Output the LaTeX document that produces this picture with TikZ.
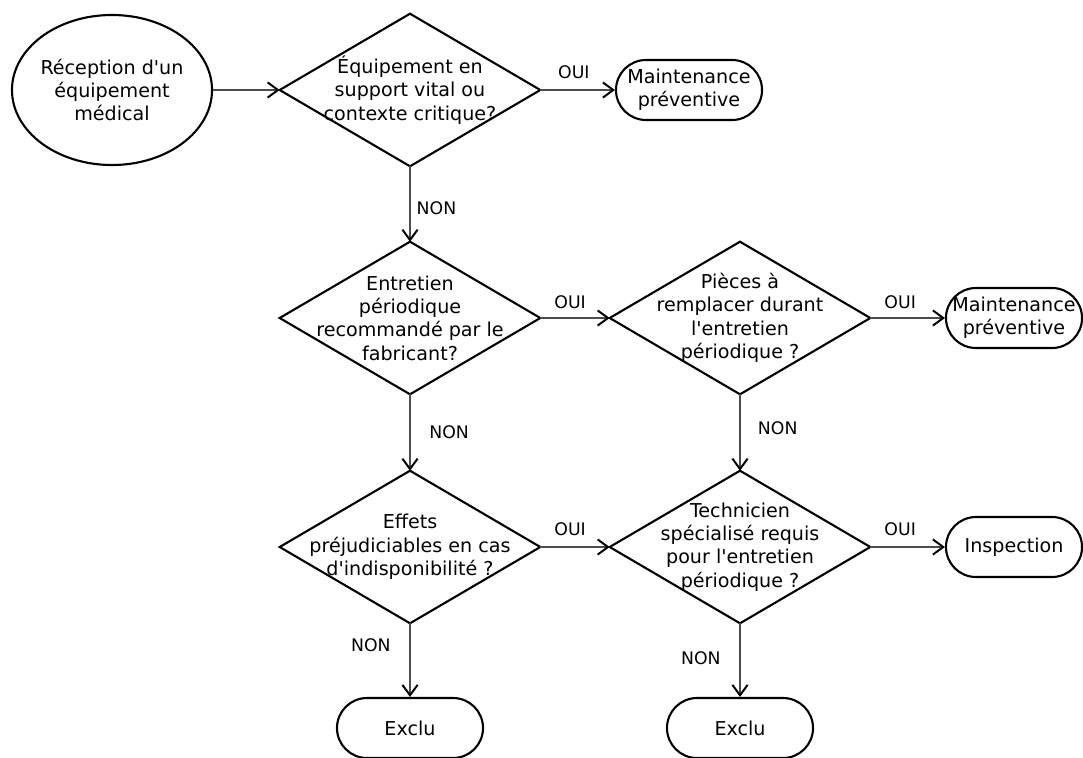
\documentclass[tikz,border=0pt]{standalone}
\usepackage{fontspec}
\setmainfont{DejaVu Sans}
\usetikzlibrary{arrows.meta,shapes.geometric}
\newcommand{\ap}{\textquotesingle}

\begin{document}
\begin{tikzpicture}[x=0.025cm,y=-0.025cm,
  >={Straight Barb[length=2.6mm,width=3.8mm,line width=1.4pt,color=black]},
  txt/.style={align=center,font=\fontsize{13.6}{16.6}\selectfont},
  start/.style={txt,ellipse,draw,line width=1.5pt,minimum width=5cm,minimum height=3.75cm,inner sep=-5pt},
  decision/.style={txt,inner sep=0pt,minimum width=6.5cm,minimum height=3.8cm},
  stopbox/.style={txt,draw,line width=1.5pt,rounded corners=0.75cm,minimum width=3.65cm,minimum height=1.5cm,inner sep=1pt},
  flow/.style={->,gray!60!black,line width=0.9pt},
  lab/.style={font=\fontsize{12.3}{14}\selectfont,black}]
  \useasboundingbox (0,0) rectangle (1083,757);

  % nodes
  \node[start] (recv) at (112,90) {R\'eception d\ap un\\\'equipement\\m\'edical};
  \node[decision] (q1) at (410,90) {\'Equipement en\\support vital ou\\contexte critique?};
  \node[stopbox] (m1) at (689,90) {Maintenance\\pr\'eventive};
  \node[decision] (q2) at (410,318) {Entretien\\p\'eriodique\\recommand\'e par le\\fabricant?};
  \node[decision] (q3) at (740,318) {Pi\`eces \`a\\remplacer durant\\l\ap entretien\\p\'eriodique ?};
  \node[stopbox,minimum width=3.4cm] (m2) at (1014,318) {Maintenance\\pr\'eventive};
  \node[decision] (q4) at (410,547) {Effets\\pr\'ejudiciables en cas\\d\ap indisponibilit\'e ?};
  \node[decision] (q5) at (740,547) {Technicien\\sp\'ecialis\'e requis\\pour l\ap entretien\\p\'eriodique ?};
  \node[stopbox,minimum width=3.4cm] (insp) at (1014,547) {Inspection};
  \node[stopbox] (ex1) at (410,728) {Exclu};
  \node[stopbox] (ex2) at (740,728) {Exclu};

  % diamond outlines
  \foreach \q in {q1,q2,q3,q4,q5}
    \draw[line width=1.5pt,line join=miter] (\q.north) -- (\q.east) -- (\q.south) -- (\q.west) -- cycle;

  % connectors
  \draw[flow] (recv) -- (q1.west);
  \draw[flow] (q1.east) -- (m1) node[lab,pos=0.45,above=4pt] {OUI};
  \draw[flow] (q1.south) -- (q2.north) node[lab,pos=0.55,right=1pt] {NON};
  \draw[flow] (q2.east) -- (q3.west) node[lab,pos=0.43,above=3pt] {OUI};
  \draw[flow] (q3.east) -- (m2) node[lab,pos=0.4,above=3pt] {OUI};
  \draw[flow] (q2.south) -- (q4.north) node[lab,midway,right=10pt] {NON};
  \draw[flow] (q3.south) -- (q5.north) node[lab,pos=0.45,right=9pt] {NON};
  \draw[flow] (q4.east) -- (q5.west) node[lab,pos=0.43,above=4pt] {OUI};
  \draw[flow] (q5.east) -- (insp) node[lab,pos=0.4,above=4pt] {OUI};
  \draw[flow] (q4.south) -- (ex1) node[lab,pos=0.3,left=10pt] {NON};
  \draw[flow] (q5.south) -- (ex2) node[lab,pos=0.47,left=10pt] {NON};
\end{tikzpicture}
\end{document}
